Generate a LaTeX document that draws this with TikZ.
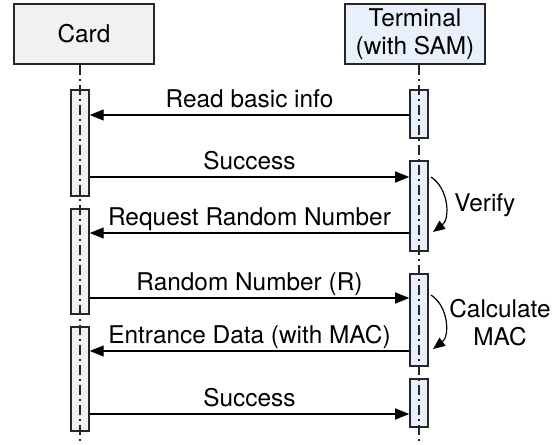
\documentclass[tikz,border=0pt]{standalone}
\usepackage{fontspec}
\setmainfont{TeX Gyre Heros}
\usetikzlibrary{arrows.meta}
\definecolor{cardfill}{RGB}{241,241,241}
\definecolor{termfill}{RGB}{232,240,251}
\begin{document}
\begin{tikzpicture}[x=0.5pt,y=-0.5pt,font=\fontsize{12.2}{14}\selectfont]
        \tikzstyle{head}=[draw=black!85,line width=0.75pt,minimum width=70pt,minimum height=30pt,align=center,inner sep=0pt]
        \tikzstyle{act}=[draw=black!85,line width=0.75pt,minimum width=9pt,inner sep=0pt]
        \tikzstyle{life}=[draw=black!85,line width=0.6pt,dash pattern=on 5pt off 2pt on 1pt off 2pt]
        \tikzstyle{msg}=[draw,line width=0.6pt,-{Triangle[length=7pt,width=5.5pt]}]
        \tikzstyle{self}=[draw,line width=0.6pt,-{Triangle[length=6pt,width=5pt]},bend left=55]
        \tikzstyle{txt}=[anchor=base,yshift=4pt,inner sep=0pt]
        \useasboundingbox (0,0) rectangle (559,445);

         \node [head,fill=cardfill] (card) at (84,34) {Card};
         \node [head,fill=termfill] (term) at (415,34) {Terminal\\(with SAM)};

         \node [act,fill=cardfill,minimum height=53pt] (c1) at (80,143) {};
         \node [act,fill=cardfill,minimum height=52.5pt] (c2) at (80,261.5) {};
         \node [act,fill=cardfill,minimum height=52pt] (c3) at (80,379) {};

         \node [act,fill=termfill,minimum height=24pt] (t1) at (419,114) {};
         \node [act,fill=termfill,minimum height=45pt] (t2) at (419,206) {};
         \node [act,fill=termfill,minimum height=46pt] (t3) at (419,320) {};
         \node [act,fill=termfill,minimum height=24pt] (t4) at (419,403) {};

         \coordinate (bottom) at (0,443);
         \path[life] (c1 |- card.south) -- (c1 |- bottom);
         \path[life] (t1 |- term.south) -- (t1 |- bottom);

         \coordinate (m1) at (0,115);
         \coordinate (m2) at (0,177);
         \coordinate (m3) at (0,233);
         \coordinate (m4) at (0,298);
         \coordinate (m5) at (0,351);
         \coordinate (m6) at (0,414);

         \path (t1.west |- m1) edge[msg] node[txt] {Read basic info} (c1.east |- m1);
         \path (c1.east |- m2) edge[msg] node[txt] {Success} (t2.west |- m2);
         \path (t2.west |- m3) edge[msg] node[txt] {Request Random Number} (c2.east |- m3);
         \path (c2.east |- m4) edge[msg] node[txt] {Random Number (R)} (t3.west |- m4);
         \path (t3.west |- m5) edge[msg] node[txt] {Entrance Data (with MAC)} (c3.east |- m5);
         \path (c3.east |- m6) edge[msg] node[txt] {Success} (t4.west |- m6);

         \coordinate (v1) at (431,177);
         \coordinate (v2) at (433,232);
         \coordinate (k1) at (431,295);
         \coordinate (k2) at (433,349);
         \path (v1) edge[self] (v2);
         \path (k1) edge[self] (k2);
         \node [anchor=west,inner sep=0pt] (verify) at (454,205) {Verify};
         \node [align=center,inner sep=0pt] (calc) at (500,323) {Calculate\\MAC};
\end{tikzpicture}
\end{document}
